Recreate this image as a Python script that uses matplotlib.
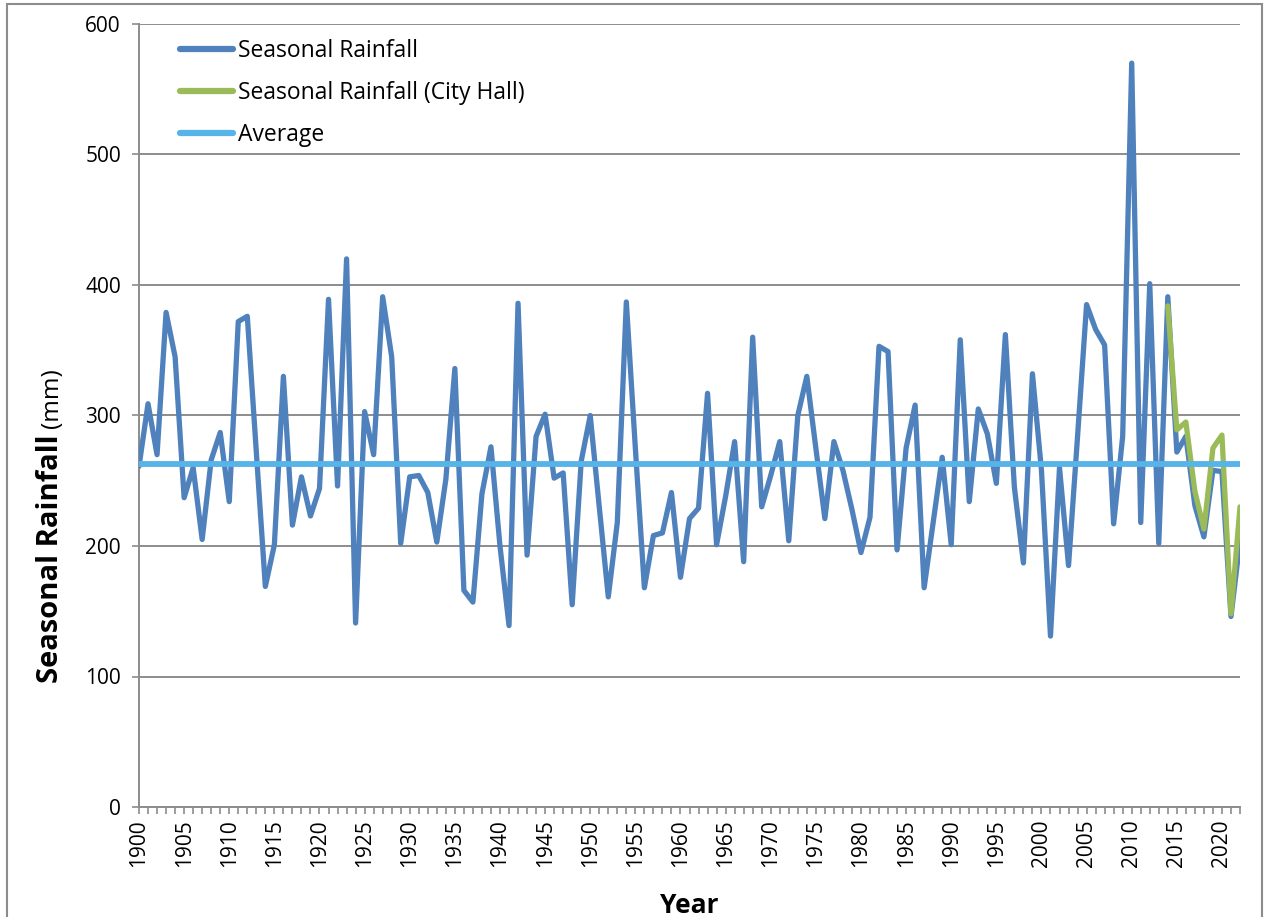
import numpy as np
import matplotlib
matplotlib.use('Agg')
import matplotlib.pyplot as plt
from matplotlib.patches import Rectangle

plt.rcParams['font.family'] = ['Open Sans', 'DejaVu Sans']

# seasonal rainfall, 1900 - 2022 (mm)
years = list(range(1900, 2023))
rainfall = [
    261, 309, 270, 379, 345, 237, 260, 205, 266, 287,   # 1900s
    234, 372, 376, 272, 169, 201, 330, 216, 253, 223,   # 1910s
    244, 389, 246, 420, 141, 303, 270, 391, 345, 202,   # 1920s
    253, 254, 241, 203, 251, 336, 166, 157, 240, 276,   # 1930s
    200, 139, 386, 193, 284, 301, 252, 256, 155, 265,   # 1940s
    300, 230, 161, 218, 387, 275, 168, 208, 210, 241,   # 1950s
    176, 221, 229, 317, 201, 238, 280, 188, 360, 230,   # 1960s
    254, 280, 204, 300, 330, 275, 221, 280, 258, 228,   # 1970s
    195, 222, 353, 349, 197, 275, 308, 168, 218, 268,   # 1980s
    201, 358, 234, 305, 286, 248, 362, 245, 187, 332,   # 1990s
    258, 131, 260, 185, 284, 385, 366, 354, 217, 284,   # 2000s
    570, 218, 401, 202, 391, 272, 284, 231, 207, 258,   # 2010s
    257, 146, 204,                                      # 2020s
]

# City Hall record, 2014 - 2022
cityhall_years = list(range(2014, 2023))
cityhall = [384, 289, 295, 242, 213, 275, 285, 148, 230]

average = 263

blue = '#4F81BD'
green = '#9BBB59'
light_blue = '#56B4E9'
grey = '#8C8C8C'

fig = plt.figure(figsize=(12.68, 9.17), dpi=100)
ax = fig.add_axes([139 / 1268, 1 - 807 / 917, (1240 - 139) / 1268, (807 - 24) / 917])

ax.plot(years, rainfall, color=blue, lw=3.8, solid_joinstyle='round',
        solid_capstyle='round', label='Seasonal Rainfall', zorder=3)
ax.plot(cityhall_years, cityhall, color=green, lw=3.8, solid_joinstyle='round',
        solid_capstyle='round', label='Seasonal Rainfall (City Hall)', zorder=4)
ax.plot([years[0], years[-1]], [average, average], color=light_blue, lw=4.2,
        label='Average', zorder=5)

ax.set_xlim(1900, 2022)
ax.set_ylim(0, 600)
ax.set_yticks(range(0, 601, 100))
ax.set_xticks(years)
ax.set_xticklabels([str(y) if y % 5 == 0 else '' for y in years], rotation=90)
ax.tick_params(axis='both', labelsize=15, colors=grey, labelcolor='black',
               length=5, width=1.2, direction='out')
ax.tick_params(axis='x', pad=4)
ax.tick_params(axis='y', pad=8)

ax.grid(axis='y', color=grey, lw=1.4, zorder=0)
ax.set_axisbelow(True)
for s in ['top', 'right']:
    ax.spines[s].set_visible(False)
for s in ['left', 'bottom']:
    ax.spines[s].set_color(grey)
    ax.spines[s].set_linewidth(1.4)

ax.set_xlabel('Year', fontsize=19, fontweight='bold', labelpad=18)

# y label: bold part + normal "(mm)"
t1 = fig.text(51 / 1268, 1 - 683 / 917, 'Seasonal Rainfall', rotation=90,
              fontsize=21, fontweight='bold', ha='left', va='center',
              rotation_mode='anchor')
fig.canvas.draw()
bb = t1.get_window_extent()
fig.text(52 / 1268, (bb.y1 + 6) / fig.bbox.height, '(mm)', rotation=90,
         fontsize=17.5, ha='left', va='center', rotation_mode='anchor')

leg = ax.legend(loc='upper left', bbox_to_anchor=(0.024, 1.0), frameon=False,
                fontsize=16.5, handlelength=2.3, handletextpad=0.22,
                labelspacing=0.78, borderaxespad=0.25)
for line in leg.get_lines():
    line.set_linewidth(4.5)
    line.set_solid_capstyle('round')

# outer chart border
fig.patches.append(Rectangle((7 / 1268, -0.05), (1262 - 7) / 1268, 1.05 - 4 / 917,
                             transform=fig.transFigure, fill=False,
                             edgecolor=grey, lw=1.5))

fig.savefig('out.png', dpi=100)
